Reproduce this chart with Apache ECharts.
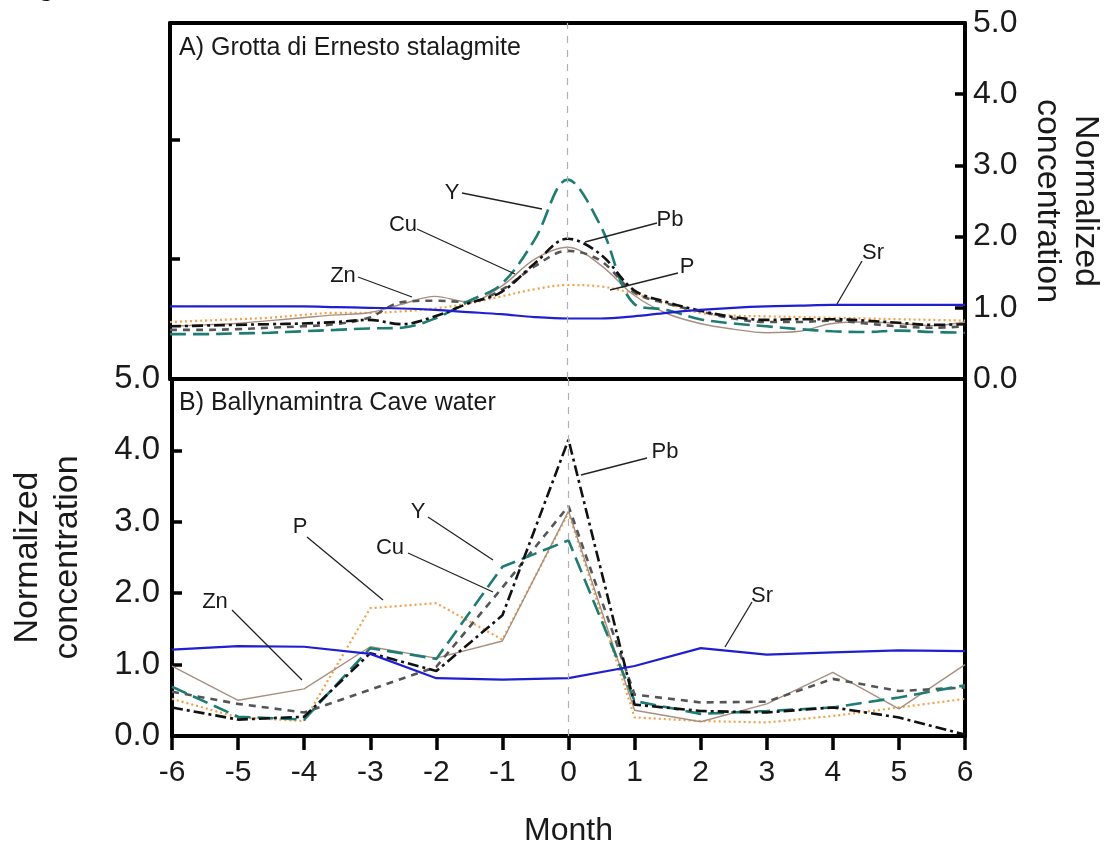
<!DOCTYPE html>
<html>
<head>
<meta charset="utf-8">
<script src="https://cdn.jsdelivr.net/npm/echarts@6/dist/echarts.min.js"></script>
<style>
html,body{margin:0;padding:0;background:#fff;}
#chart{width:1117px;height:854px;}
</style>
</head>
<body>
<div id="chart"></div>
<script>
// ---------- DATA ----------
// Panel A: Grotta di Ernesto stalagmite (smoothed record, half-month steps)
const topMonths = [-6,-5.5,-5,-4.5,-4,-3.5,-3,-2.5,-2,-1.5,-1,-0.5,0,0.5,1,1.5,2,2.5,3,3.5,4,4.5,5,5.5,6];
const topSr = [1.02,1.02,1.02,1.02,1.02,1.01,1.00,0.99,0.97,0.94,0.91,0.87,0.85,0.85,0.88,0.93,0.97,1.00,1.02,1.03,1.04,1.04,1.04,1.04,1.04];
const topP  = [0.80,0.82,0.84,0.86,0.90,0.93,0.93,0.95,0.99,1.06,1.16,1.26,1.32,1.30,1.20,1.06,0.93,0.89,0.88,0.87,0.86,0.85,0.84,0.83,0.82];
const topPb = [0.74,0.75,0.76,0.77,0.78,0.80,0.83,0.77,0.88,1.06,1.22,1.62,1.97,1.75,1.25,1.08,0.96,0.87,0.83,0.84,0.84,0.82,0.79,0.76,0.77];
const topCu = [0.69,0.69,0.70,0.72,0.74,0.77,0.86,1.08,1.10,1.08,1.25,1.58,1.80,1.66,1.22,1.06,0.95,0.85,0.80,0.80,0.82,0.78,0.74,0.72,0.74];
const topZn = [0.74,0.76,0.78,0.82,0.86,0.90,0.93,1.05,1.16,1.08,1.30,1.68,1.85,1.60,1.18,0.92,0.78,0.70,0.65,0.67,0.78,0.80,0.78,0.75,0.80];
const topY  = [0.63,0.63,0.64,0.65,0.67,0.69,0.71,0.72,0.85,1.09,1.33,1.95,2.80,2.15,1.06,0.97,0.84,0.78,0.74,0.70,0.67,0.66,0.68,0.66,0.65];

// Panel B: Ballynamintra Cave water (monthly)
const botMonths = [-6,-5,-4,-3,-2,-1,0,1,2,3,4,5,6];
const botSr = [1.21,1.26,1.25,1.15,0.81,0.79,0.81,0.98,1.23,1.14,1.17,1.20,1.19];
const botPb = [0.40,0.23,0.27,1.16,0.91,1.69,4.15,0.44,0.35,0.33,0.40,0.26,0.02];
const botCu = [0.62,0.45,0.33,0.65,0.97,2.08,3.22,0.58,0.47,0.48,0.80,0.63,0.68];
const botZn = [0.98,0.50,0.66,1.25,1.09,1.33,3.15,0.36,0.20,0.45,0.89,0.38,1.00];
const botP  = [0.52,0.26,0.21,1.79,1.86,1.35,3.13,0.26,0.21,0.19,0.28,0.40,0.52];
const botY  = [0.69,0.27,0.23,1.23,1.08,2.37,2.74,0.49,0.31,0.35,0.40,0.54,0.71];

const yTicks = [0,1,2,3,4,5];

// ---------- STYLES ----------
const FONT = '"Liberation Sans", Arial, Helvetica, sans-serif';
const styles = {
  Sr: {color:'#1f1fd0', width:2.2, type:'solid'},
  P:  {color:'#f0a048', width:2.2, type:[2,3]},
  Zn: {color:'#a89080', width:1.4, type:'solid'},
  Cu: {color:'#555555', width:2.6, type:[7,6]},
  Y:  {color:'#1e7c72', width:2.6, type:[16,7]},
  Pb: {color:'#111111', width:2.6, type:[11,4,3,4]}
};

function pairs(xs, ys){ return xs.map((x,i)=>[x, ys[i]]); }

function mkSeries(name, xs, ys, gi, smooth){
  return {
    name: name, type:'line', xAxisIndex: gi===0?0:2, yAxisIndex: gi===0?0:2,
    data: pairs(xs, ys), symbol:'none', smooth: smooth, silent:true,
    lineStyle: Object.assign({}, styles[name]), z: 3
  };
}

const zeroLine = {
  silent:true, symbol:['none','none'], label:{show:false},
  lineStyle:{color:'#b0b0b0', type:[7,7], width:1.2},
  data:[{xAxis:0}]
};

const series = [];
const topSets = [['P',topP],['Zn',topZn],['Cu',topCu],['Y',topY],['Pb',topPb],['Sr',topSr]];
const botSets = [['P',botP],['Zn',botZn],['Cu',botCu],['Y',botY],['Pb',botPb],['Sr',botSr]];
topSets.forEach(s=>series.push(mkSeries(s[0], topMonths, s[1], 0, 0.35)));
botSets.forEach(s=>series.push(mkSeries(s[0], botMonths, s[1], 1, false)));
series[0].markLine = zeroLine;
series[6].markLine = zeroLine;

const axisLineStyle = {onZero:false, lineStyle:{color:'#000', width:4}};

const option = {
  animation:false,
  backgroundColor:'#fff',
  textStyle:{fontFamily:FONT},
  grid:[
    {left:170, right:152, top:23, height:356},
    {left:170, right:152, top:379, height:357}
  ],
  xAxis:[
    {gridIndex:0, type:'value', min:-6, max:6, interval:1, position:'bottom',
     axisLine:axisLineStyle, axisTick:{show:false}, axisLabel:{show:false}, splitLine:{show:false}},
    {gridIndex:0, type:'value', min:-6, max:6, interval:1, position:'top',
     axisLine:axisLineStyle, axisTick:{show:false}, axisLabel:{show:false}, splitLine:{show:false}},
    {gridIndex:1, type:'value', min:-6, max:6, interval:1, position:'bottom',
     axisLine:axisLineStyle,
     axisTick:{show:true, inside:false, length:14, lineStyle:{color:'#000', width:3.5}},
     axisLabel:{show:true, fontSize:30, color:'#1a1a1a', margin:22, fontFamily:FONT},
     splitLine:{show:false},
     name:'Month', nameLocation:'middle', nameGap:79,
     nameTextStyle:{fontSize:32, color:'#1a1a1a', fontFamily:FONT}}
  ],
  yAxis:[
    {gridIndex:0, type:'value', min:yTicks[0], max:yTicks[yTicks.length-1], interval:1, position:'right',
     axisLine:axisLineStyle,
     axisTick:{show:true, inside:true, length:10, lineStyle:{color:'#000', width:3.5}},
     axisLabel:{show:true, fontSize:32, color:'#1a1a1a', margin:8, fontFamily:FONT,
                formatter:v=>v.toFixed(1)},
     splitLine:{show:false},
     name:'Normalized\nconcentration', nameLocation:'middle', nameRotate:-90, nameGap:60,
     nameTextStyle:{fontSize:34, lineHeight:38, color:'#1a1a1a', fontFamily:FONT}},
    {gridIndex:0, type:'value', min:0, max:2.97, interval:1, position:'left',
     axisLine:axisLineStyle,
     axisTick:{show:true, inside:true, length:10, lineStyle:{color:'#000', width:3.5}},
     axisLabel:{show:false}, splitLine:{show:false}},
    {gridIndex:1, type:'value', min:yTicks[0], max:yTicks[yTicks.length-1], interval:1, position:'left',
     axisLine:axisLineStyle,
     axisTick:{show:true, inside:true, length:10, lineStyle:{color:'#000', width:3.5}},
     axisLabel:{show:true, fontSize:33, color:'#1a1a1a', margin:12, fontFamily:FONT,
                formatter:v=>v.toFixed(1)},
     splitLine:{show:false},
     name:'Normalized\nconcentration', nameLocation:'middle', nameRotate:90, nameGap:84,
     nameTextStyle:{fontSize:34, lineHeight:40, color:'#1a1a1a', fontFamily:FONT}},
    {gridIndex:1, type:'value', min:0, max:5, interval:1, position:'right',
     axisLine:axisLineStyle, axisTick:{show:false}, axisLabel:{show:false}, splitLine:{show:false}}
  ],
  series: series
};

// ---------- ANNOTATIONS (pixel layout) ----------
function txt(t, x, y, size, align){
  return {type:'text', x:x, y:y, z:50, silent:true,
    style:{text:t, font:(size||22)+'px '+FONT, fill:'#1a1a1a', align:align||'center', verticalAlign:'middle'}};
}
function ln(x1,y1,x2,y2){
  return {type:'line', z:50, silent:true, shape:{x1:x1,y1:y1,x2:x2,y2:y2},
    style:{stroke:'#222', lineWidth:1.3}};
}
option.graphic = [
  {type:'text', x:19, y:-10, z:50, silent:true,
   style:{text:'Fig', font:'bold 24px "Liberation Serif", "Times New Roman", serif', fill:'#111', align:'left', verticalAlign:'middle'}},
  txt('A) Grotta di Ernesto stalagmite', 179, 48, 25, 'left'),
  txt('B) Ballynamintra Cave water', 179, 403, 25, 'left'),
  // panel A labels
  txt('Y', 452, 193), ln(462,193,542,209),
  txt('Cu', 403, 225), ln(417,229,515,274),
  txt('Zn', 343, 276), ln(358,277,412,297),
  txt('Pb', 670, 220), ln(657,223,585,242),
  txt('P', 687, 267), ln(678,273,610,290),
  txt('Sr', 873, 253), ln(862,261,837,304),
  // panel B labels
  txt('Zn', 215, 602), ln(232,610,302,680),
  txt('P', 300, 527), ln(307,537,383,600),
  txt('Cu', 390, 548), ln(408,553,493,592),
  txt('Y', 418, 512), ln(428,517,493,560),
  txt('Pb', 665, 452), ln(647,458,581,475),
  txt('Sr', 762, 596), ln(752,602,725,647)
];

const chart = echarts.init(document.getElementById('chart'), null, {renderer:'canvas'});
chart.setOption(option);
</script>
</body>
</html>
